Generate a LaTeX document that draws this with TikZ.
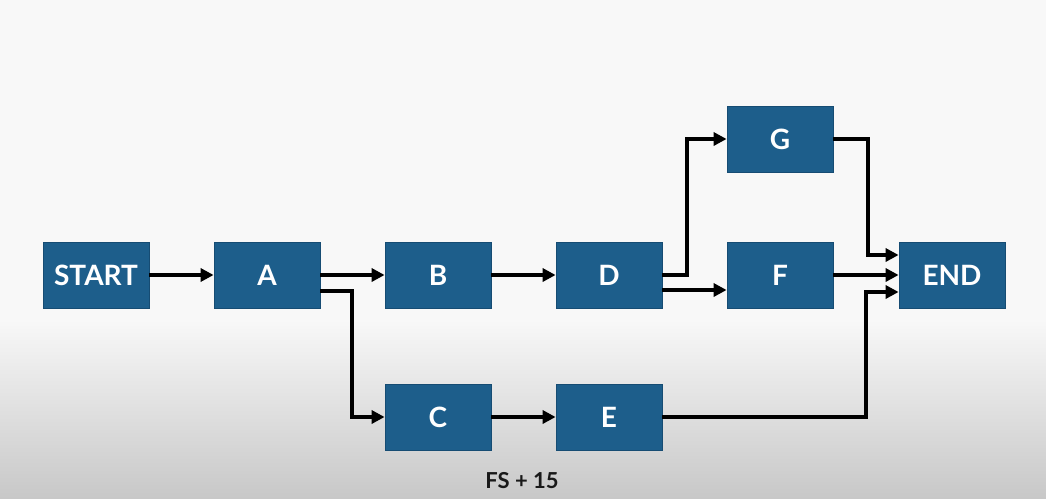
\documentclass[tikz,border=0pt]{standalone}
\usepackage{fontspec}
\setmainfont{Lato}
\usetikzlibrary{arrows.meta}
\definecolor{boxblue}{RGB}{29,94,139}
\definecolor{boxedge}{RGB}{22,76,115}
\definecolor{bgtop}{RGB}{248,248,248}
\definecolor{bgbot}{RGB}{200,200,200}
\tikzset{
  task/.style={rectangle, fill=boxblue, draw=boxedge, line width=0.8pt,
    minimum width=106pt, minimum height=66pt, inner sep=0pt,
    text=white, font=\fontsize{28}{31}\selectfont\bfseries},
  conn/.style={draw=black, line width=3.9pt, line join=miter,
    -{Triangle[length=13pt,width=13pt]}},
  note/.style={text=black!90, font=\fontsize{22}{25}\selectfont\bfseries}
}
\begin{document}
\begin{tikzpicture}[x=1pt,y=-1pt]
\useasboundingbox (0,0) rectangle (1046,498);
\fill[bgtop] (0,0) rectangle (1046,320);
\shade[top color=bgtop, bottom color=bgbot] (0,319.5) rectangle (1046,498);

\node[task] (start) at (96,275) {START};
\node[task] (a) at (267,275) {A};
\node[task] (b) at (438,275) {B};
\node[task] (d) at (609,275) {D};
\node[task] (g) at (780,139) {G};
\node[task] (f) at (780,275) {F};
\node[task] (end) at (952,275) {END};
\node[task] (c) at (438,417) {C};
\node[task] (e) at (609,417) {E};
\node[note] (lag) at (522,481) {FS + 15};

\draw[conn] (start) -- (a);
\draw[conn] (a) -- (b);
\draw[conn] ([yshift=-16pt]a.east) -- ++(32,0) |- (c.west);
\draw[conn] (b) -- (d);
\draw[conn] (c) -- (e);
\draw[conn] (d.east) -- ++(25,0) |- (g.west);
\draw[conn] ([yshift=-15pt]d.east) -- ([yshift=-15pt]f.west);
\draw[conn] (g.east) -- ++(35,0) |- ([yshift=20pt]end.west);
\draw[conn] (f) -- (end);
\draw[conn] (e.east) -- ++(204,0) |- ([yshift=-17pt]end.west);
\end{tikzpicture}
\end{document}
